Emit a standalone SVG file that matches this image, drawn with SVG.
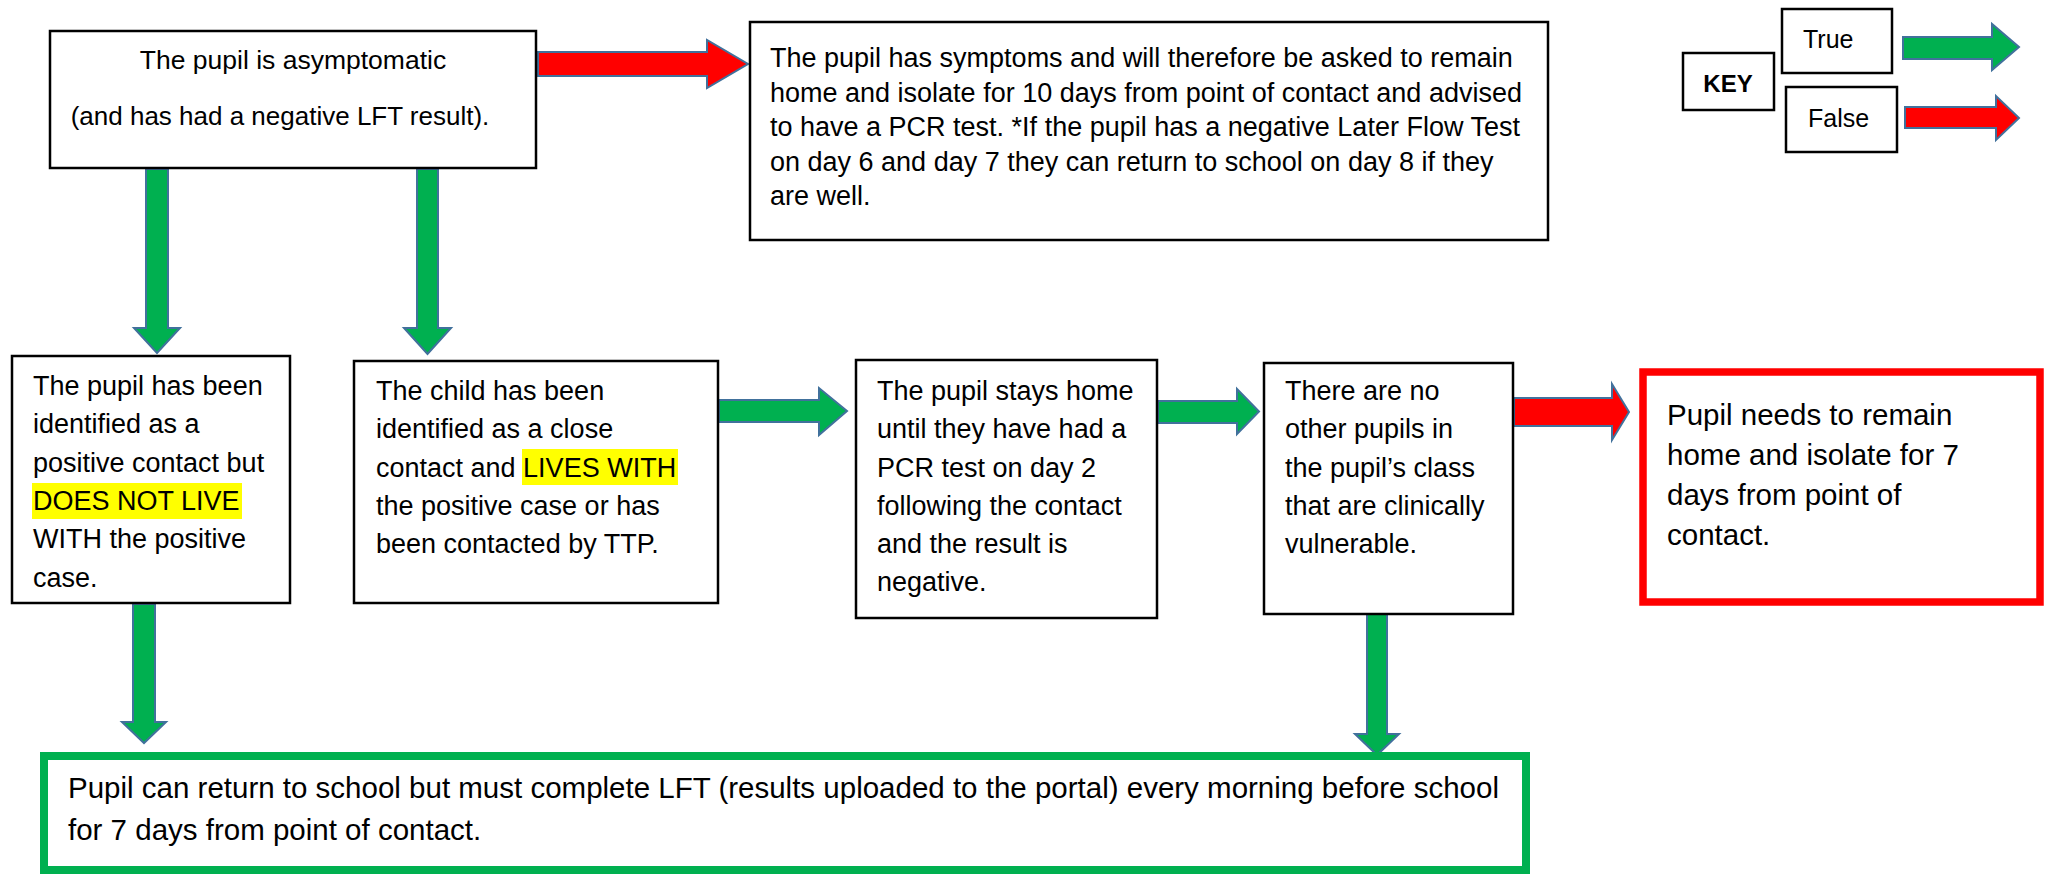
<svg xmlns="http://www.w3.org/2000/svg" width="2049" height="874" viewBox="0 0 2049 874">
<style>
  text { font-family: "Liberation Sans", Arial, sans-serif; fill: #000; }
  .box { fill: #fff; stroke: #000; stroke-width: 2.5; }
  .t27 { font-size: 27px; }
  .t29 { font-size: 29.5px; }
  .key { font-size: 25px; }
  .hl { fill: #FFFF00; }
  .ga { fill: #00B050; stroke: #41719C; stroke-width: 2; stroke-linejoin: miter; }
  .ra { fill: #FF0000; stroke: #41719C; stroke-width: 2; stroke-linejoin: miter; }
</style>
<rect width="2049" height="874" fill="#fff"/>

<g id="connectors">
  <path class="ra" d="M538,52 H707 V40 L748,64 L707,88 V76 H538 Z"/>
  <path class="ga" d="M146,169 V328 H134 L157,353 L180,328 H168 V169 Z"/>
  <path class="ga" d="M417,169 V328 H404 L427.5,354 L451,328 H438 V169 Z"/>
  <path class="ga" d="M719,400 H819 V388 L847,411 L819,435 V422 H719 Z"/>
  <path class="ga" d="M1158,401 H1237 V389 L1259,411.5 L1237,434 V423 H1158 Z"/>
  <path class="ra" d="M1514,398 H1612 V384 L1629,412 L1612,440 V426 H1514 Z"/>
  <path class="ga" d="M133,604 V722 H122 L144,743 L166,722 H155 V604 Z"/>
  <path class="ga" d="M1367,614 V734 H1355 L1377,755 L1399,734 H1387 V614 Z"/>
</g>

<g id="node-asymptomatic">
  <rect class="box" x="50" y="31" width="486" height="137"/>
  <text x="293" y="69" text-anchor="middle" font-size="26.5">The pupil is asymptomatic</text>
  <text x="280" y="125" text-anchor="middle" font-size="26">(and has had a negative LFT result).</text>
</g>

<g id="node-symptoms">
  <rect class="box" x="750" y="22" width="798" height="218"/>
  <text class="t27">
    <tspan x="770" y="67">The pupil has symptoms and will therefore be asked to remain</tspan>
    <tspan x="770" y="102">home and isolate for 10 days from point of contact and advised</tspan>
    <tspan x="770" y="136">to have a PCR test. *If the pupil has a negative Later Flow Test</tspan>
    <tspan x="770" y="171">on day 6 and day 7 they can return to school on day 8 if they</tspan>
    <tspan x="770" y="205">are well.</tspan>
  </text>
</g>

<g id="node-key">
  <rect class="box" x="1683" y="53" width="91" height="57"/>
  <text x="1728" y="92" text-anchor="middle" font-size="24" font-weight="bold">KEY</text>
  <rect class="box" x="1782" y="9" width="110" height="64"/>
  <text class="key" x="1803" y="48">True</text>
  <rect class="box" x="1786" y="87" width="111" height="65"/>
  <text class="key" x="1808" y="127">False</text>
  <path class="ga" d="M1903,37 H1992 V24 L2019,47 L1992,70 V59 H1903 Z"/>
  <path class="ra" d="M1905,107 H1996 V96 L2019,118 L1996,140 V128 H1905 Z"/>
</g>

<g id="node-not-live-with">
  <rect class="box" x="12" y="356" width="278" height="247"/>
  <rect class="hl" x="32" y="483" width="210" height="36"/>
  <text class="t27">
    <tspan x="33" y="395">The pupil has been</tspan>
    <tspan x="33" y="433">identified as a</tspan>
    <tspan x="33" y="472">positive contact but</tspan>
    <tspan x="33" y="510">DOES NOT LIVE</tspan>
    <tspan x="33" y="548">WITH the positive</tspan>
    <tspan x="33" y="587">case.</tspan>
  </text>
</g>

<g id="node-lives-with">
  <rect class="box" x="354" y="361" width="364" height="242"/>
  <rect class="hl" x="522" y="449" width="156" height="36"/>
  <text class="t27">
    <tspan x="376" y="400">The child has been</tspan>
    <tspan x="376" y="438">identified as a close</tspan>
    <tspan x="376" y="477">contact and LIVES WITH</tspan>
    <tspan x="376" y="515">the positive case or has</tspan>
    <tspan x="376" y="553">been contacted by TTP.</tspan>
  </text>
</g>

<g id="node-stays-home">
  <rect class="box" x="856" y="360" width="301" height="258"/>
  <text class="t27">
    <tspan x="877" y="400">The pupil stays home</tspan>
    <tspan x="877" y="438">until they have had a</tspan>
    <tspan x="877" y="477">PCR test on day 2</tspan>
    <tspan x="877" y="515">following the contact</tspan>
    <tspan x="877" y="553">and the result is</tspan>
    <tspan x="877" y="591">negative.</tspan>
  </text>
</g>

<g id="node-no-vulnerable">
  <rect class="box" x="1264" y="363" width="249" height="251"/>
  <text class="t27">
    <tspan x="1285" y="400">There are no</tspan>
    <tspan x="1285" y="438">other pupils in</tspan>
    <tspan x="1285" y="477">the pupil’s class</tspan>
    <tspan x="1285" y="515">that are clinically</tspan>
    <tspan x="1285" y="553">vulnerable.</tspan>
  </text>
</g>

<g id="node-isolate-7">
  <rect x="1643" y="372" width="397" height="230" fill="#fff" stroke="#FF0000" stroke-width="7.5"/>
  <text class="t29">
    <tspan x="1667" y="425">Pupil needs to remain</tspan>
    <tspan x="1667" y="465">home and isolate for 7</tspan>
    <tspan x="1667" y="505">days from point of</tspan>
    <tspan x="1667" y="545">contact.</tspan>
  </text>
</g>

<g id="node-return-school">
  <rect x="44" y="756" width="1482" height="114" fill="#fff" stroke="#00B050" stroke-width="8"/>
  <text class="t29">
    <tspan x="68" y="798">Pupil can return to school but must complete LFT (results uploaded to the portal) every morning before school</tspan>
    <tspan x="68" y="840">for 7 days from point of contact.</tspan>
  </text>
</g>
</svg>
